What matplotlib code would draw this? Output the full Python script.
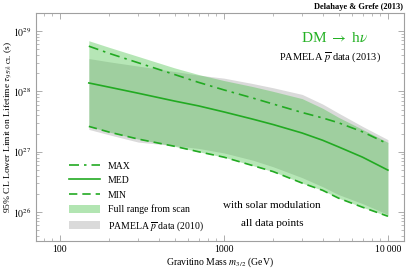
import numpy as np
import matplotlib
matplotlib.use("Agg")
import matplotlib.pyplot as plt
from matplotlib.patches import Patch
from matplotlib.lines import Line2D
from matplotlib.ticker import FixedLocator, LogLocator, NullFormatter, FixedFormatter

plt.rcParams['font.family'] = ['Liberation Serif', 'DejaVu Serif']
plt.rcParams['mathtext.fontset'] = 'stix'

mass = [150, 200, 300, 500, 700, 1000, 1500, 2000, 3000, 4000, 5000, 7000, 10000]
log_max = [28.75, 28.63, 28.475, 28.28, 28.15, 28.025, 27.89, 27.79, 27.65, 27.56, 27.48, 27.33, 27.13]
log_med = [28.14, 28.07, 27.97, 27.84, 27.76, 27.66, 27.54, 27.45, 27.31, 27.19, 27.08, 26.91, 26.695]
log_min = [27.42, 27.325, 27.21, 27.09, 27.0, 26.91, 26.77, 26.67, 26.48, 26.36, 26.23, 26.08, 25.93]
log_scan_hi = [28.84, 28.73, 28.58, 28.39, 28.28, 28.18, 28.08, 28.0, 27.88, 27.72, 27.57, 27.37, 27.155]
log_scan_lo = log_min
log_pam_hi = [28.545, 28.49, 28.42, 28.33, 28.27, 28.22, 28.13, 28.06, 27.95, 27.79, 27.64, 27.42, 27.2]
log_pam_lo = [27.37, 27.28, 27.16, 27.1, 27.055, 26.98, 26.86, 26.75, 26.57, 26.42, 26.29, 26.14, 25.96]

m = np.array(mass, dtype=float)
p = lambda a: 10.0 ** np.array(a)

fig = plt.figure(figsize=(4.07, 2.72), dpi=100)
ax = fig.add_axes([36/407, 1-241/272, 368/407, 228/272])

green_fill = '#3fbf3f'
line_c = '#22aa22'
ax.fill_between(m, p(log_pam_lo), p(log_pam_hi), color='#dadada', lw=0)
ax.fill_between(m, p(log_scan_lo), p(log_scan_hi), color=green_fill, alpha=0.38, lw=0)
ax.plot(m, p(log_max), color=line_c, lw=1.2, dashes=(6, 3, 1.5, 3))
ax.plot(m, p(log_med), color=line_c, lw=1.2)
ax.plot(m, p(log_min), color=line_c, lw=1.2, dashes=(5, 3))

ax.set_xscale('log')
ax.set_yscale('log')
ax.set_xlim(10**1.854, 10**4.098)
ax.set_ylim(10**25.52, 10**29.3)

ax.xaxis.set_major_locator(FixedLocator([100, 1000, 10000]))
ax.xaxis.set_major_formatter(FixedFormatter(['100', '1000', '10\u2009000']))
ax.xaxis.set_minor_locator(LogLocator(base=10, subs=np.arange(2, 10)))
ax.xaxis.set_minor_formatter(NullFormatter())
ax.yaxis.set_major_locator(FixedLocator([1e26, 1e27, 1e28, 1e29]))
ax.yaxis.set_major_formatter(FixedFormatter([r'$10^{26}$', r'$10^{27}$', r'$10^{28}$', r'$10^{29}$']))
ax.yaxis.set_minor_locator(LogLocator(base=10, subs=np.arange(2, 10)))
ax.yaxis.set_minor_formatter(NullFormatter())

for s in ax.spines.values():
    s.set_color('#a0a0a0')
    s.set_linewidth(0.8)
ax.tick_params(which='both', direction='in', top=True, right=True, color='#a0a0a0', labelsize=7, pad=3)
ax.tick_params(which='major', length=4, width=0.6)
ax.tick_params(which='minor', length=2, width=0.5)

fig.text(220/407, 1-262/272, r'Gravitino Mass $m_{3/2}$ (GeV)', ha='center', va='center', fontsize=7)
fig.text(8/407, 1-127/272, r'95% CL Lower Limit on Lifetime $\tau_{95\%\ \mathrm{CL}}$ (s)',
         ha='center', va='center', rotation=90, fontsize=6.8)

fig.text(0.99, 0.975, 'Delahaye & Grefe (2013)', ha='right', va='center', fontsize=6, fontweight='bold')
fig.text(335/407, 1-38/272, r'DM $\rightarrow$ h$\nu$', ha='center', va='center',
         fontsize=11, color='#22b022')
fig.text(330/407, 1-57/272, r'PAMELA $\overline{p}$ data (2013)', ha='center', va='center', fontsize=7.5)
fig.text(272/407, 1-206/272, 'with solar modulation', ha='center', va='center', fontsize=8)
fig.text(272/407, 1-224/272, 'all data points', ha='center', va='center', fontsize=8)

handles = [
    Line2D([], [], color=line_c, lw=1.2, dashes=(6, 3, 1.5, 3)),
    Line2D([], [], color=line_c, lw=1.2),
    Line2D([], [], color=line_c, lw=1.2, dashes=(5, 3)),
    Patch(facecolor='#b2e5b2', edgecolor='none'),
    Patch(facecolor='#dadada', edgecolor='none'),
]
labels = ['MAX', 'MED', 'MIN', 'Full range from scan', r'PAMELA $\overline{p}$ data (2010)']
ax.legend(handles, labels, loc='upper left', bbox_to_anchor=(64/407, 1-156/272), bbox_transform=fig.transFigure,
          frameon=False, fontsize=7, handlelength=3.2, handleheight=1.0, labelspacing=0.5, borderpad=0,
          handletextpad=0.8)

fig.savefig('out.png', dpi=100)
